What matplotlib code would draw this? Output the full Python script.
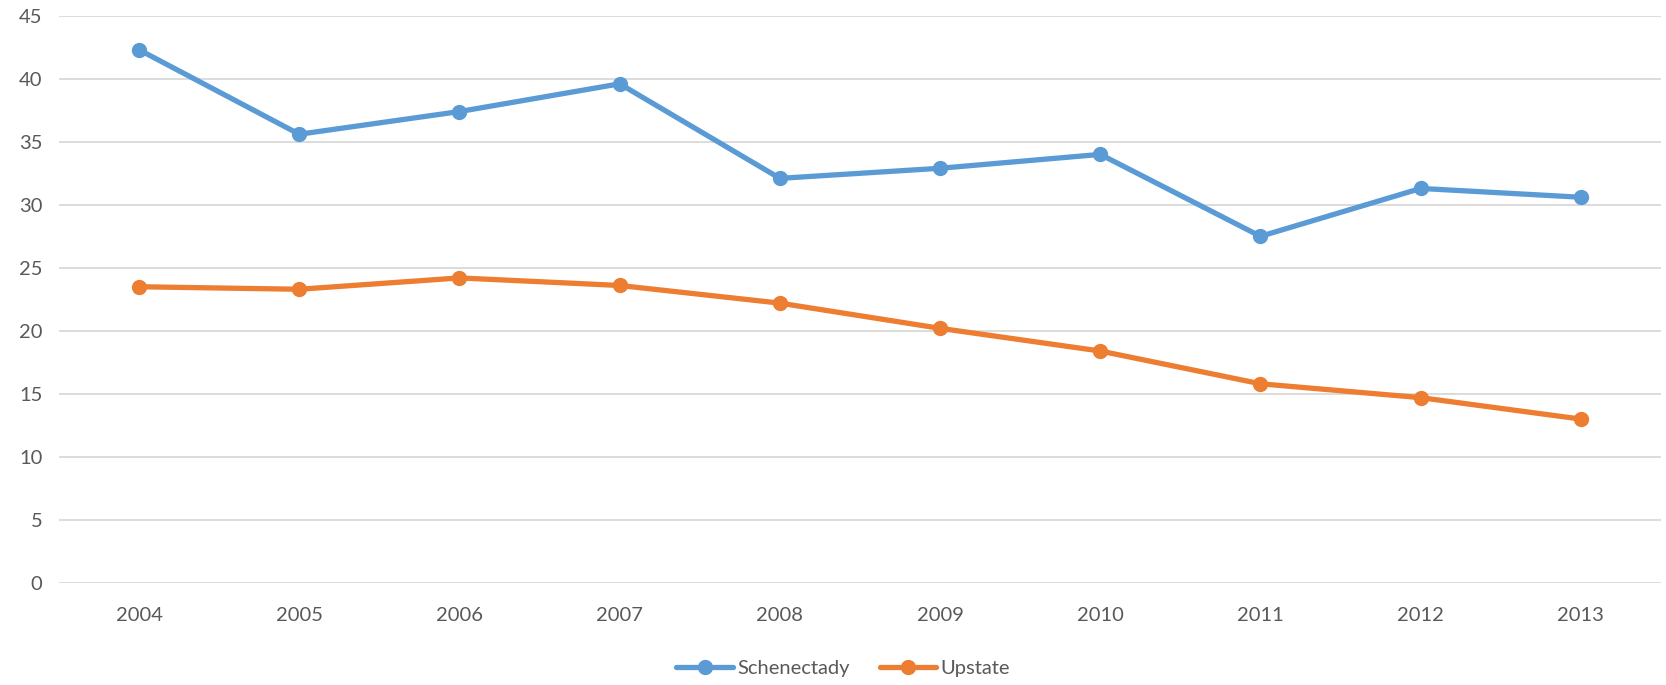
import matplotlib.pyplot as plt

years = ['2004', '2005', '2006', '2007', '2008', '2009', '2010', '2011', '2012', '2013']
schenectady = [42.3, 35.6, 37.4, 39.6, 32.1, 32.9, 34.0, 27.5, 31.3, 30.6]
upstate = [23.5, 23.3, 24.2, 23.6, 22.2, 20.2, 18.4, 15.8, 14.7, 13.0]
yticks = [0, 5, 10, 15, 20, 25, 30, 35, 40, 45]

plt.rcParams['font.family'] = ['Lato', 'DejaVu Sans']

fig = plt.figure(figsize=(16.66, 6.85), dpi=100)
ax = fig.add_axes([0.0354, 0.149, 0.9616, 0.828])

x = range(len(years))
ax.plot(x, schenectady, color='#5b9bd5', lw=3.8, marker='o', ms=10, label='Schenectady',
        solid_capstyle='round', zorder=3)
ax.plot(x, upstate, color='#ed7d31', lw=3.8, marker='o', ms=10, label='Upstate',
        solid_capstyle='round', zorder=3)

ax.set_xlim(-0.5, len(years) - 0.5)
ax.set_ylim(0, 45)
ax.set_yticks(yticks)
ax.set_xticks(list(x))
ax.set_xticklabels(years)
ax.grid(axis='y', color='#d9d9d9', lw=1.3)
ax.set_axisbelow(True)
for s in ax.spines.values():
    s.set_visible(False)
ax.tick_params(length=0, labelsize=14.5, labelcolor='#595959')
ax.tick_params(axis='x', pad=17)
ax.tick_params(axis='y', pad=12)

fig.legend(loc='center', bbox_to_anchor=(0.506, 0.024), ncol=2, frameon=False,
           fontsize=14.5, labelcolor='#595959', handlelength=2.8, handletextpad=0.2,
           columnspacing=1.5)

fig.savefig('out.png', dpi=100)
